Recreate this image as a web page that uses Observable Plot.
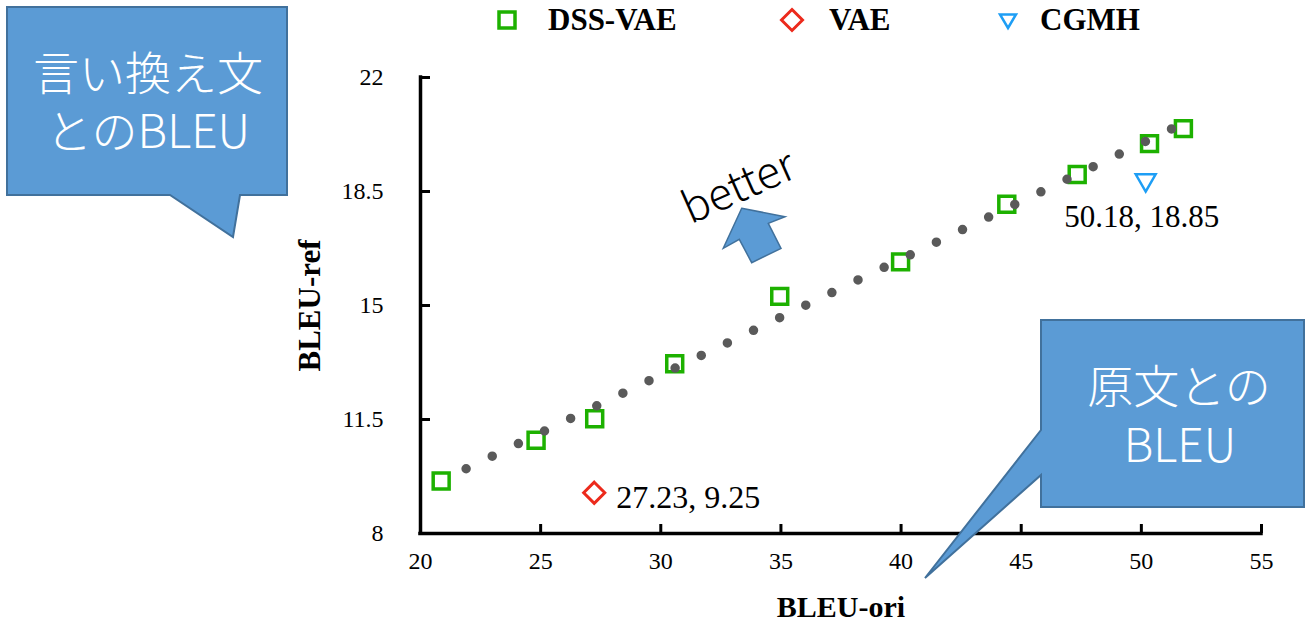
<!DOCTYPE html>
<html><head><meta charset="utf-8">
<script src="https://cdn.jsdelivr.net/npm/d3@7"></script>
<script src="https://cdn.jsdelivr.net/npm/@observablehq/plot@0.6"></script>
<style>
html,body{margin:0;padding:0;background:#fff;}
#wrap{position:relative;width:1306px;height:624px;overflow:hidden;background:#fff;}
#legend{position:absolute;left:0;top:0;width:1306px;height:40px;}
#chart{position:absolute;left:0;top:40px;}
#overlay{position:absolute;left:0;top:0;pointer-events:none;}
.lg-text{position:absolute;top:2px;height:40px;line-height:40px;font:bold 31px 'Liberation Serif','Times New Roman',serif;color:#000;white-space:nowrap;}
.lg-mark{position:absolute;top:6px;width:28px;height:28px;}
.cjk{font-family:'Noto Sans CJK JP Light','Noto Sans CJK JP',sans-serif;font-weight:300;}
</style>
</head><body>
<div id="wrap">
  <div id="legend"></div>
  <div id="chart"></div>
  <svg id="overlay" width="1306" height="624" xmlns="http://www.w3.org/2000/svg">
    <!-- top-left callout -->
    <path d="M7,7 H287 V195 H240 L233,237 L170,195 H7 Z" fill="#5B9BD5" stroke="#41719C" stroke-width="2"/>
    <text class="cjk" fill="#fff" font-size="46" text-anchor="middle" dominant-baseline="central"><tspan x="148" y="70">言い換え文</tspan><tspan x="148" y="128">とのBLEU</tspan></text>
    <!-- bottom-right callout -->
    <path d="M1041,320 H1304 V507 H1041 V475 L925,578 L1041,430 Z" fill="#5B9BD5" stroke="#41719C" stroke-width="2"/>
    <text class="cjk" fill="#fff" font-size="46" text-anchor="middle" dominant-baseline="central"><tspan x="1179" y="383">原文との</tspan><tspan x="1180" y="442">BLEU</tspan></text>
    <!-- better arrow -->
    <text class="cjk" transform="translate(737,183) rotate(-24)" fill="#000" font-size="44" text-anchor="middle" dominant-baseline="central">better</text>
    <path d="M741.7,208.3 L785,216.7 L768.3,223.3 L781,248.3 L751.7,262.7 L739.3,239.3 L723.3,248.3 Z" fill="#5B9BD5" stroke="#41719C" stroke-width="1.5"/>
  </svg>
</div>
<script>
// ---- data ----
const seriesNames = ["DSS-VAE", "VAE", "CGMH"];
const seriesColors = ["#1db100", "#ec2a1c", "#1e9ef5"];
const dssOri = [20.86, 24.81, 27.25, 30.58, 34.95, 39.98, 44.40, 47.33, 50.34, 51.75];
const dssRef = [9.61, 10.86, 11.52, 13.21, 15.28, 16.34, 18.11, 19.02, 19.97, 20.43];
const vaeOri = [27.23];
const vaeRef = [9.25];
const cgmhOri = [50.18];
const cgmhRef = [18.85];
const xTicks = [20, 25, 30, 35, 40, 45, 50, 55];
const yTicks = [8, 11.5, 15, 18.5, 22];
const xLabel = "BLEU-ori";
const yLabel = "BLEU-ref";

// ---- tables ----
const dss = dssOri.map((x, i) => ({x, y: dssRef[i]}));
const vae = vaeOri.map((x, i) => ({x, y: vaeRef[i], label: `${x}, ${vaeRef[i]}`}));
const cgmh = cgmhOri.map((x, i) => ({x, y: cgmhRef[i], label: `${x}, ${cgmhRef[i]}`}));

const serif = "'Liberation Serif','Times New Roman',serif";
const triDown = {
  draw(ctx, size) {
    const s = Math.sqrt(size) * 0.6824, t = s / 2, u = s * Math.sqrt(3) / 2;
    ctx.moveTo(0, s); ctx.lineTo(u, -t); ctx.lineTo(-u, -t); ctx.closePath();
  }
};

// ---- legend ----
const legendPos = [{m: 507, t: 548}, {m: 792, t: 829}, {m: 1008, t: 1040}];
const legendShapes = [
  c => `<rect x="6" y="6" width="16" height="16" fill="none" stroke="${c}" stroke-width="3.5"/>`,
  c => `<path d="M14,3.5 L24.5,14 L14,24.5 L3.5,14 Z" fill="none" stroke="${c}" stroke-width="3"/>`,
  c => `<path d="M14,22 L22,8.5 L6,8.5 Z" fill="none" stroke="${c}" stroke-width="2.5"/>`
];
const legend = document.getElementById("legend");
seriesNames.forEach((name, i) => {
  const m = document.createElement("div");
  m.className = "lg-mark";
  m.style.left = (legendPos[i].m - 14) + "px";
  m.innerHTML = `<svg width="28" height="28">${legendShapes[i](seriesColors[i])}</svg>`;
  legend.appendChild(m);
  const t = document.createElement("div");
  t.className = "lg-text";
  t.style.left = legendPos[i].t + "px";
  t.textContent = name;
  legend.appendChild(t);
});

// ---- chart ----
const chart = Plot.plot({
  width: 1306, height: 584,
  marginTop: 37, marginBottom: 91, marginLeft: 420, marginRight: 45,
  style: {fontFamily: serif, background: "white", overflow: "visible", color: "black"},
  x: {domain: [20, 55]},
  y: {domain: [8, 22]},
  marks: [
    Plot.axisX(xTicks, {tickSize: -9, tickPadding: 27, fontSize: 24, strokeWidth: 3, color: "black", tickFormat: d => String(d), label: null}),
    Plot.axisY(yTicks, {tickSize: -10, tickPadding: 47, fontSize: 24, strokeWidth: 3, color: "black", tickFormat: d => String(d), label: null}),
    Plot.ruleX([20], {stroke: "black", strokeWidth: 3.5, strokeLinecap: "square"}),
    Plot.ruleY([8], {stroke: "black", strokeWidth: 3.5, strokeLinecap: "square"}),
    Plot.text([xLabel], {text: d => d, frameAnchor: "bottom", lineAnchor: "middle", dy: 74, fontSize: 30, fontWeight: "bold", fill: "black"}),
    Plot.text([yLabel], {text: d => d, frameAnchor: "left", textAnchor: "middle", lineAnchor: "middle", dx: -110, rotate: -90, fontSize: 31, fontWeight: "bold", fill: "black"}),
    Plot.dot(dss, {x: "x", y: "y", symbol: "square", r: 9, stroke: seriesColors[0], strokeWidth: 3.5, fill: "none"}),
    Plot.linearRegressionY(dss, {x: "x", y: "y", ci: 0, stroke: "#5a5a5a", strokeWidth: 9.5, strokeDasharray: "0 29", strokeDashoffset: 1.3, strokeLinecap: "round"}),
    Plot.dot(vae, {x: "x", y: "y", symbol: "diamond2", r: 9.5, stroke: seriesColors[1], strokeWidth: 3, fill: "none"}),
    Plot.text(vae, {x: "x", y: "y", text: "label", textAnchor: "start", dx: 22, dy: 5, fontSize: 32, fill: "black"}),
    Plot.dot(cgmh, {x: "x", y: "y", symbol: triDown, r: 9.5, stroke: seriesColors[2], strokeWidth: 2.5, fill: "none"}),
    Plot.text(cgmh, {x: "x", y: "y", text: "label", dx: -4, dy: 37, fontSize: 31, fill: "black"})
  ]
});
document.getElementById("chart").appendChild(chart);
</script>
</body></html>
